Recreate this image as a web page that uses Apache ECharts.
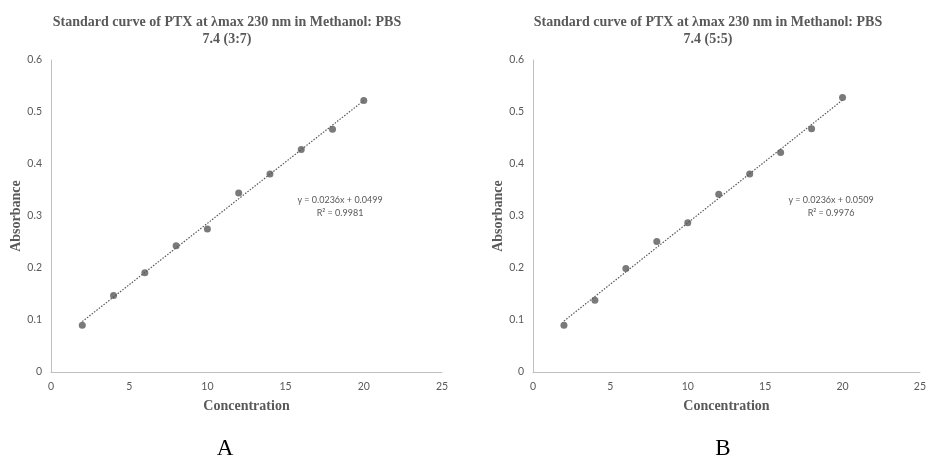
<!DOCTYPE html>
<html>
<head>
<meta charset="utf-8">
<script src="https://cdn.jsdelivr.net/npm/echarts@6/dist/echarts.min.js"></script>
<style>
  html, body { margin: 0; padding: 0; background: #fff; }
  #chart { width: 929px; height: 460px; }
</style>
</head>
<body>
<div id="chart"></div>
<script>
// 数据
const concentration = [2, 4, 6, 8, 10, 12, 14, 16, 18, 20];
const absorbanceA = [0.090, 0.147, 0.191, 0.243, 0.275, 0.344, 0.381, 0.428, 0.467, 0.522];
const absorbanceB = [0.090, 0.138, 0.199, 0.251, 0.287, 0.342, 0.381, 0.422, 0.468, 0.528];
// 趋势线端点
const trendA = [[2, 0.097], [20, 0.522]];
const trendB = [[2, 0.098], [20, 0.523]];
const equationA = 'y = 0.0236x + 0.0499\nR² = 0.9981';
const equationB = 'y = 0.0236x + 0.0509\nR² = 0.9976';
const titleA = 'Standard curve of PTX at λmax 230 nm in Methanol: PBS\n7.4 (3:7)';
const titleB = 'Standard curve of PTX at λmax 230 nm in Methanol: PBS\n7.4 (5:5)';

const serif = '"Liberation Serif", "Times New Roman", serif';
const sans = '"Lato", "Open Sans", sans-serif';
const grey = '#595959';

function xAxisFor(gridIndex) {
    return {
        type: 'value',
        gridIndex: gridIndex,
        min: 0,
        max: 25,
        interval: 5,
        name: 'Concentration',
        nameLocation: 'middle',
        nameGap: 27,
        nameTextStyle: { fontFamily: serif, fontWeight: 'bold', fontSize: 14, color: grey },
        axisLine: { lineStyle: { color: '#bfbfbf' } },
        axisTick: { show: false },
        splitLine: { show: false },
        axisLabel: { fontFamily: sans, fontSize: 10.5, color: grey, margin: 9 }
    };
}

function yAxisFor(gridIndex) {
    return {
        type: 'value',
        gridIndex: gridIndex,
        min: 0,
        max: 0.6,
        interval: 0.1,
        name: 'Absorbance',
        nameLocation: 'middle',
        nameGap: 28,
        nameTextStyle: { fontFamily: serif, fontWeight: 'bold', fontSize: 14, color: grey },
        axisLine: { show: true, lineStyle: { color: '#bfbfbf' } },
        axisTick: { show: false },
        splitLine: { show: false },
        axisLabel: { fontFamily: sans, fontSize: 10.5, color: grey, margin: 9 }
    };
}

function pointsSeries(idx, values) {
    return {
        type: 'scatter',
        xAxisIndex: idx,
        yAxisIndex: idx,
        symbolSize: 7,
        itemStyle: { color: grey },
        data: concentration.map((c, i) => [c, values[i]]),
        z: 3
    };
}

function trendSeries(idx, pts) {
    return {
        type: 'line',
        xAxisIndex: idx,
        yAxisIndex: idx,
        symbol: 'none',
        lineStyle: { color: grey, width: 1.2, type: [1.5, 1.5] },
        data: pts,
        z: 2
    };
}

function textBlock(text, x, y, style) {
    return { text: text, left: x, top: y, padding: 0, textAlign: 'center', textStyle: style };
}

const titleStyle = { fontFamily: serif, fontWeight: 'bold', fontSize: 14, color: grey, lineHeight: 17 };
const eqStyle = { fontFamily: sans, fontWeight: 'normal', fontSize: 9, color: grey, lineHeight: 13 };
const tagStyle = { fontFamily: serif, fontWeight: 'normal', fontSize: 23, color: '#000' };

const chart = echarts.init(document.getElementById('chart'));
chart.setOption({
    animation: false,
    title: [
        textBlock(titleA, 227, 14, titleStyle),
        textBlock(titleB, 708, 14, titleStyle),
        textBlock(equationA, 340, 194, eqStyle),
        textBlock(equationB, 831, 194, eqStyle),
        textBlock('A', 225, 437, tagStyle),
        textBlock('B', 723, 437, tagStyle)
    ],
    grid: [
        { left: 51, top: 60, width: 391, height: 312 },
        { left: 533, top: 60, width: 391, height: 312 }
    ],
    xAxis: [xAxisFor(0), xAxisFor(1)],
    yAxis: [yAxisFor(0), yAxisFor(1)],
    series: [
        trendSeries(0, trendA),
        pointsSeries(0, absorbanceA),
        trendSeries(1, trendB),
        pointsSeries(1, absorbanceB)
    ]
});
</script>
</body>
</html>
